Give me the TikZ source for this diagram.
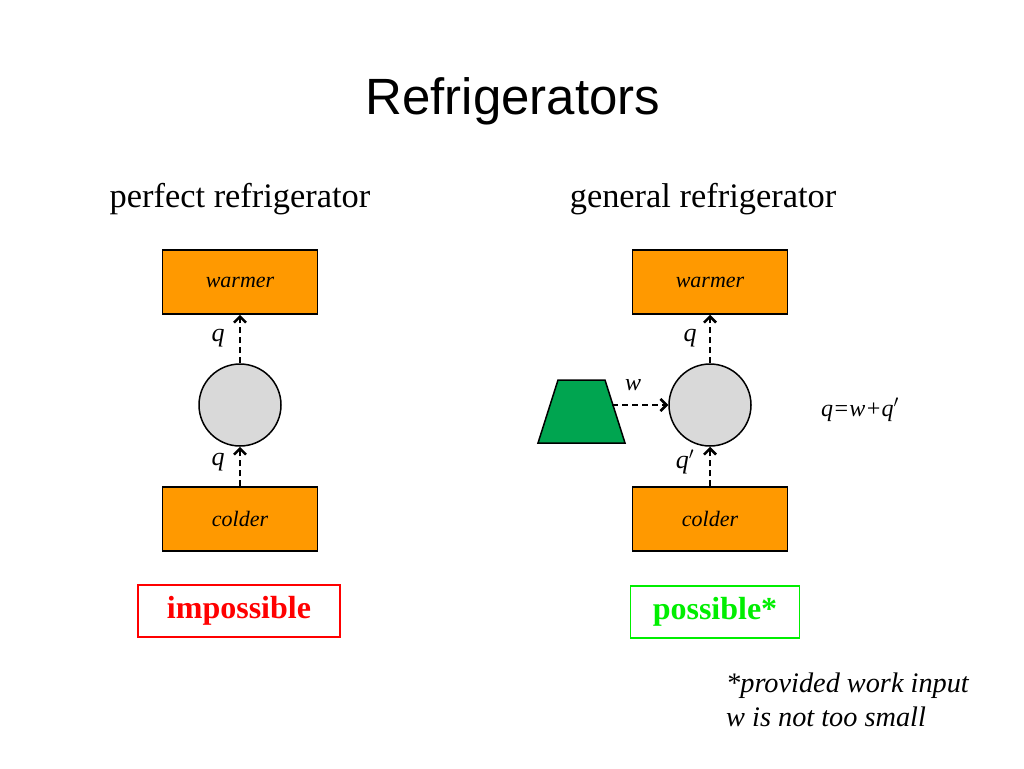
\documentclass[tikz,border=0pt]{standalone}
\usepackage{fontspec}
\setmainfont{Liberation Serif}
\newfontfamily\titlefont{Liberation Sans}
\usetikzlibrary{arrows.meta}
\definecolor{org}{HTML}{FF9900}
\definecolor{circ}{HTML}{D9D9D9}
\definecolor{trap}{HTML}{00A550}
\definecolor{pgreen}{HTML}{00EE00}
\begin{document}
\begin{tikzpicture}[x=1pt,y=-1pt,
 box/.style={draw=black,fill=org,line width=1.5pt,minimum width=155pt,minimum height=64pt,inner sep=0pt,font=\fontsize{22}{26}\selectfont\itshape},
 eng/.style={circle,draw=black,fill=circ,line width=1.5pt,minimum size=82pt,inner sep=0pt},
 flow/.style={line width=2.5pt,dash pattern=on 6pt off 4pt,-{Straight Barb[length=6pt,width=12pt,line width=2.5pt]}},
 lbl/.style={font=\fontsize{26}{30}\selectfont\itshape},
 verdict/.style={line width=1.5pt,minimum height=52pt,inner sep=0pt,font=\fontsize{32}{36}\selectfont\bfseries}]
\useasboundingbox (0,0) rectangle (1024,768);
\node[font=\titlefont\fontsize{51}{56}\selectfont] (title) at (513,101) {Refrigerators};
\node[font=\fontsize{34.4}{38}\selectfont] (h1) at (240,199) {perfect refrigerator};
\node[font=\fontsize{34.4}{38}\selectfont] (h2) at (703,199) {general refrigerator};
% left
\node[box] (w1) at (240,282) {warmer};
\node[eng] (e1) at (240,405) {};
\node[box] (c1) at (240,519) {colder};
\draw[flow] (e1.north) -- (w1.south);
\draw[flow] (c1.north) -- (e1.south);
\node[lbl] (q1) at (218,338) {q};
\node[lbl] (q2) at (218,462) {q};
\node[verdict,draw=red,text=red,minimum width=202pt] (imp) at (239,611) {impossible};
% right
\node[box] (w2) at (710,282) {warmer};
\node[eng] (e2) at (710,405) {};
\node[box] (c2) at (710,519) {colder};
\draw[flow] (e2.north) -- (w2.south);
\draw[flow] (c2.north) -- (e2.south);
\node[lbl] (q3) at (690,338) {q};
\node[lbl] (q4) at (685,462) {q$'$};
\draw[fill=trap,line width=1.5pt] (538,443) -- (625,443) -- (605,380) -- (558,380) -- cycle;
\coordinate (tr) at (612,405);
\draw[flow] (tr) -- (e2.west);
\node[font=\fontsize{24}{28}\selectfont\itshape] (wl) at (633,385) {w};
\node[font=\fontsize{24}{28}\selectfont\itshape] (eq) at (860,410) {q=w+q$'$};
\node[verdict,draw=pgreen,text=pgreen,minimum width=169pt] (pos) at (715,612) {possible*};
\node[align=left,anchor=north west,inner sep=0pt,font=\fontsize{28.3}{34}\selectfont\itshape] (fn) at (726,673) {*provided work input\\w is not too small};
\end{tikzpicture}
\end{document}
